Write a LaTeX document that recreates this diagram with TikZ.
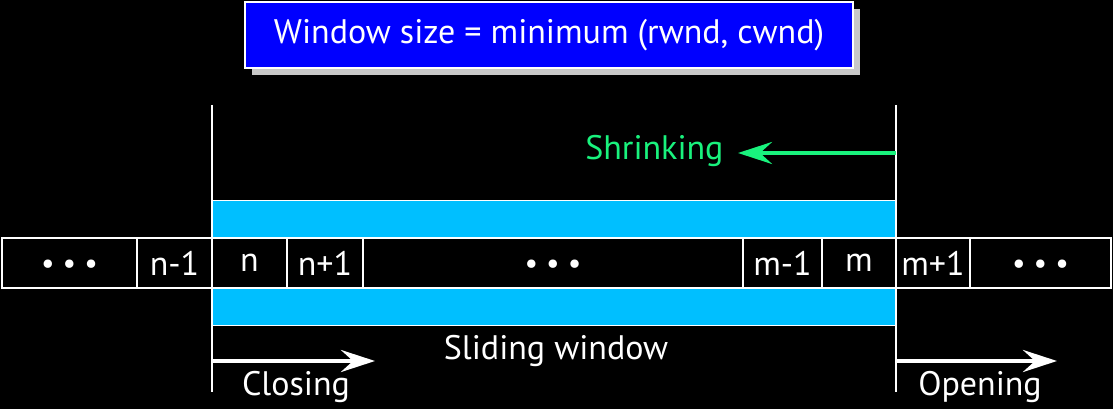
\documentclass[tikz,border=0pt]{standalone}
\usepackage{fontspec}
\setmainfont{PT Sans}
\usetikzlibrary{arrows.meta, positioning, shadows}
\definecolor{bandcyan}{RGB}{0,191,255}
\definecolor{shrinkgreen}{RGB}{25,242,125}
\definecolor{shadowgray}{RGB}{200,200,200}

\begin{document}
\begin{tikzpicture}[
    x=1pt, y=-1pt,
    every node/.style={font=\fontsize{34}{40}\selectfont, text=white},
    cell/.style={draw=white, line width=2pt, fill=black, minimum height=50pt,
                 inner sep=0pt, outer sep=0pt},
    dots/.style={font=\fontsize{30}{36}\selectfont},
    titlebox/.style={draw=white, line width=2pt, fill=blue, minimum width=608pt,
                     minimum height=66pt, drop shadow={shadow xshift=7pt,
                     shadow yshift=-7pt, fill=shadowgray, opacity=1}},
    band/.style={draw=white, line width=1pt, fill=bandcyan, minimum width=684pt,
                 minimum height=125pt, inner sep=0pt},
    border/.style={draw=white, line width=2pt},
    move/.style={draw=white, line width=4.5pt, -{Stealth[length=34pt, width=22pt, inset=12pt]}},
    shrink/.style={move, draw=shrinkgreen}]

    % Background and bounding box
    \useasboundingbox (0,0) rectangle (1113,409);
    \fill[black] (0,0) rectangle (1113,409);

    % Define title
    \node[titlebox] (title) at (549,35) {Window size = minimum (rwnd, cwnd)};

    % Define window band
    \node[band] (window) at (554,262.5) {};

    % Define cells
    \node[cell, dots, minimum width=135pt, anchor=west] (c1) at (2,263) {\raisebox{-4pt}[\height][0pt]{•~•~•}};
    \node[cell, minimum width=75pt, right=0pt of c1] (c2) {n-1};
    \node[cell, minimum width=75pt, right=0pt of c2] (c3) {n};
    \node[cell, minimum width=76pt, right=0pt of c3] (c4) {n+1};
    \node[cell, dots, minimum width=380pt, right=0pt of c4] (c5) {\raisebox{-4pt}[\height][0pt]{•~•~•}};
    \node[cell, minimum width=79pt, right=0pt of c5] (c6) {m-1};
    \node[cell, minimum width=74pt, right=0pt of c6] (c7) {m};
    \node[cell, minimum width=74pt, right=0pt of c7] (c8) {m+1};
    \node[cell, dots, minimum width=141pt, right=0pt of c8] (c9) {\raisebox{-4pt}[\height][0pt]{•~•~•}};

    % Define window edges
    \coordinate (ltop) at (212,105);
    \coordinate (lbot) at (212,392);
    \coordinate (rtop) at (896,105);
    \coordinate (rbot) at (896,392);
    \draw[border] (ltop) -- (lbot);
    \draw[border] (rtop) -- (rbot);

    % Draw movements
    \coordinate (sstart) at (896,153);
    \coordinate (stip) at (738,153);
    \coordinate (cstart) at (212,361);
    \coordinate (ctip) at (375,361);
    \coordinate (ostart) at (896,361);
    \coordinate (otip) at (1057,361);
    \draw[shrink] (sstart) -- (stip);
    \draw[move] (cstart) -- (ctip);
    \draw[move] (ostart) -- (otip);

    % Labels
    \node[text=shrinkgreen, anchor=east] (shrinklbl) at (727,151) {Shrinking};
    \node (slidelbl) at (556,351) {Sliding window};
    \node (closelbl) at (296,387) {Closing};
    \node (openlbl) at (980,387) {Opening};
\end{tikzpicture}
\end{document}
